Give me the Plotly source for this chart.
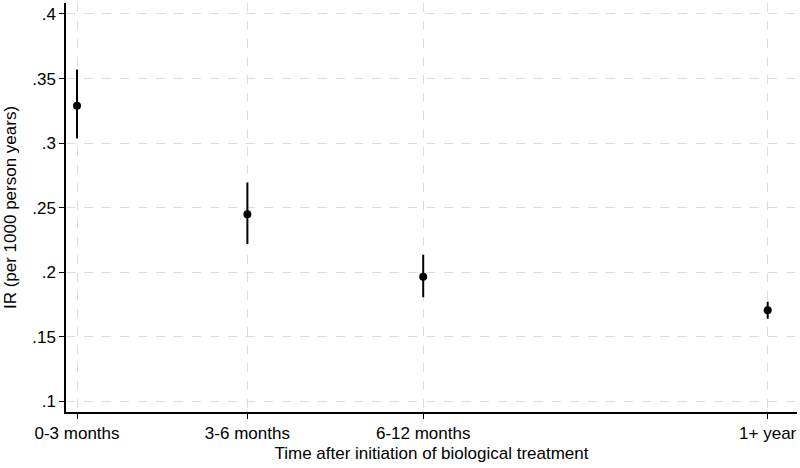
import plotly.graph_objects as go

categories = ["0-3 months", "3-6 months", "6-12 months", "1+ year"]
x_pos = [0, 1, 2.032, 4.054]
ir = [0.329, 0.2449, 0.1966, 0.1705]
ci_low = [0.3036, 0.2219, 0.1807, 0.1640]
ci_high = [0.357, 0.2696, 0.2136, 0.1772]
y_ticks = [0.1, 0.15, 0.2, 0.25, 0.3, 0.35, 0.4]
y_ticktext = [".1", ".15", ".2", ".25", ".3", ".35", ".4"]

err_plus = [h - v for h, v in zip(ci_high, ir)]
err_minus = [v - l for v, l in zip(ir, ci_low)]

fig = go.Figure()
fig.add_trace(go.Scatter(
    x=x_pos, y=ir, mode="markers",
    marker=dict(color="black", size=8),
    error_y=dict(type="data", symmetric=False, array=err_plus, arrayminus=err_minus,
                 color="black", thickness=2, width=0),
    showlegend=False,
))

font = dict(family="Liberation Sans, Arial, sans-serif", size=17, color="black")
fig.update_layout(
    width=800, height=468,
    margin=dict(l=66, r=3, t=3, b=56),
    paper_bgcolor="white", plot_bgcolor="white",
    font=font,
    xaxis=dict(
        range=[-0.0646, 4.226], tickvals=x_pos, ticktext=categories,
        showline=True, linecolor="black", linewidth=1.5,
        ticks="outside", ticklen=5, tickcolor="black", tickwidth=1,
        showgrid=True, gridcolor="#dcdcdc", griddash="dash", gridwidth=1,
        zeroline=False, mirror=False, tickfont=font,
        title=dict(text="Time after initiation of biological treatment", standoff=5, font=font),
    ),
    yaxis=dict(
        range=[0.0918, 0.4085], tickvals=y_ticks, ticktext=y_ticktext,
        showline=True, linecolor="black", linewidth=1.5,
        ticks="outside", ticklen=5, tickcolor="black", tickwidth=1,
        showgrid=True, gridcolor="#dcdcdc", griddash="dash", gridwidth=1,
        zeroline=False, mirror=False, tickfont=font,
        title=dict(text="IR (per 1000 person years)", standoff=11, font=font),
    ),
)
fig.write_html("out.html")
